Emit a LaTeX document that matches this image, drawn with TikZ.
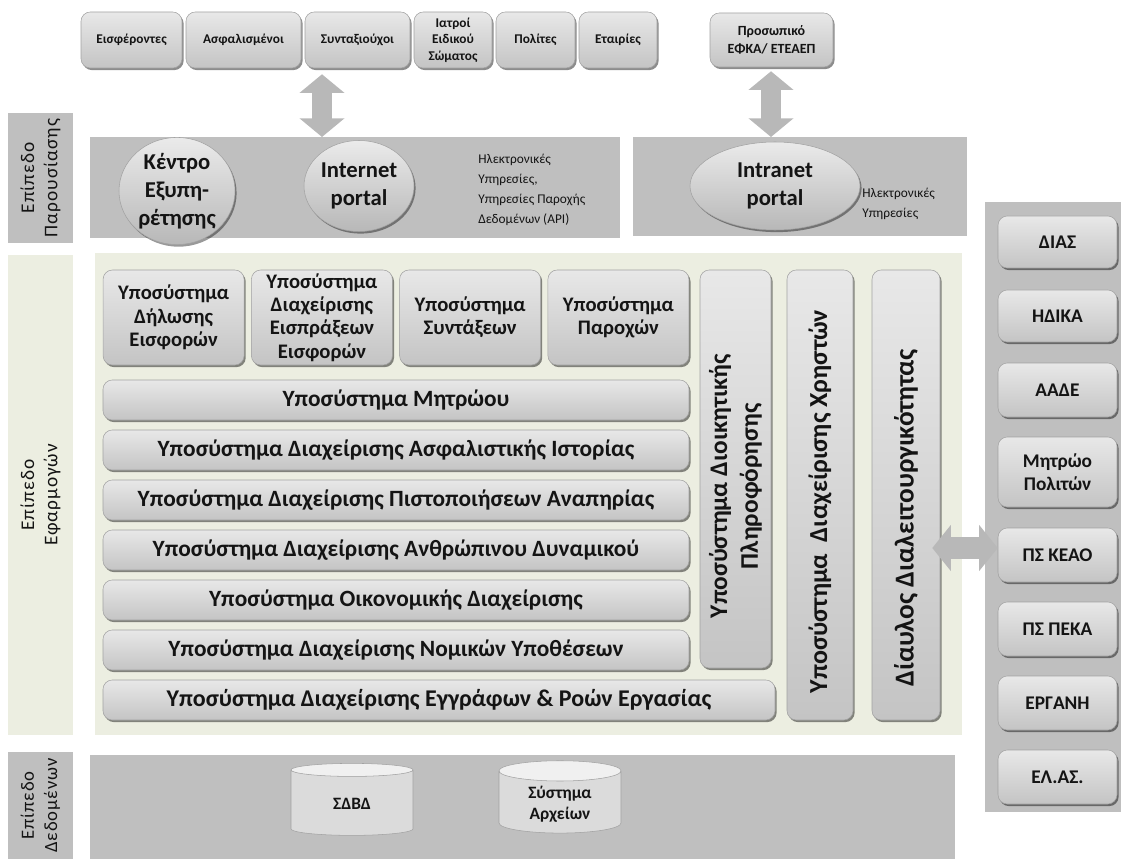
\documentclass[tikz,border=0pt]{standalone}
\usepackage{fontspec}
\setmainfont{Carlito}
\newfontfamily\layerfont[LetterSpace=5]{Carlito}
\usetikzlibrary{shapes.geometric,shadows,arrows.meta,calc}

\definecolor{panelgray}{HTML}{BFBFBF}
\definecolor{appbg}{HTML}{ECEEE1}
\definecolor{boxtop}{HTML}{E8E8E8}
\definecolor{boxbot}{HTML}{C4C4C4}
\definecolor{boxedge}{HTML}{A2A2A2}
\definecolor{arrowgray}{HTML}{B8B8B8}
\definecolor{ink}{HTML}{141414}

\tikzset{
  wh/.style 2 args={minimum width=#1*0.75pt, minimum height=#2*0.75pt},
  panel/.style={fill=panelgray, inner sep=0pt, outer sep=0pt},
  apppanel/.style={fill=appbg, inner sep=0pt, outer sep=0pt},
  layerlabel/.style={rotate=90, align=center, text=ink, inner sep=0pt,
    font=\layerfont\fontsize{14.5}{17.5}\selectfont},
  box/.style={rounded corners=7pt, draw=boxedge, line width=0.4pt,
    top color=boxtop, bottom color=boxbot,
    drop shadow={shadow xshift=1.2pt, shadow yshift=-1.6pt, opacity=0.45, fill=black},
    text=ink, align=center, inner sep=1pt, font=\bfseries},
  usrbox/.style={box, font=\fontsize{10}{12.5}\selectfont\bfseries},
  subbox/.style={box, font=\fontsize{15.5}{17.5}\selectfont\bfseries},
  rowbox/.style={box, font=\fontsize{17.5}{20}\selectfont\bfseries},
  barbox/.style={box, rotate=90},
  extbox/.style={box, font=\fontsize{14.5}{17}\selectfont\bfseries},
  portal/.style={ellipse, draw=boxedge, line width=0.4pt, inner sep=0pt,
    top color=white!92!black, bottom color=black!28,
    drop shadow={shadow xshift=1.2pt, shadow yshift=-1.6pt, opacity=0.4, fill=black},
    text=ink, align=center, font=\fontsize{17}{21}\selectfont\bfseries},
  note/.style={align=left, text=ink, inner sep=0pt, anchor=west,
    font=\fontsize{10}{15}\selectfont},
  store/.style={cylinder, shape border rotate=90, aspect=0.28, draw=boxedge,
    line width=0.4pt, cylinder uses custom fill,
    cylinder body fill=black!14, cylinder end fill=black!6,
    text=ink, align=center, font=\fontsize{13}{16}\selectfont\bfseries},
  barrow/.style={draw=arrowgray, line width=15pt,
    {Triangle[width=33pt,length=14pt]}-{Triangle[width=33pt,length=14pt]}},
  harrow/.style={draw=arrowgray, line width=16pt,
    {Triangle[width=34pt,length=14pt]}-{Triangle[width=34pt,length=14pt]}},
}

\begin{document}
\begin{tikzpicture}[x=0.75pt, y=-0.75pt]
\useasboundingbox (0,0) rectangle (1121,859);

% ---------- layer labels ----------
\node[panel, wh={65}{130}] (lpres) at (40.5,178) {};
\node[layerlabel] at (lpres.center) {Επίπεδο\\Παρουσίασης};
\node[apppanel, wh={65}{480}] (lapp) at (40.5,495) {};
\node[layerlabel] at (lapp.center) {Επίπεδο\\Εφαρμογών};
\node[panel, wh={65}{107}] (ldata) at (40.5,805.5) {};
\node[layerlabel, font=\layerfont\fontsize{14}{17.5}\selectfont] at (ldata.center) {Επίπεδο\\Δεδομένων};

% ---------- user groups ----------
\node[usrbox, wh={101}{56}] (u1) at (131.5,40) {Εισφέροντες};
\node[usrbox, wh={115}{56}] (u2) at (243.5,40) {Ασφαλισμένοι};
\node[usrbox, wh={105}{56}] (u3) at (357.5,40) {Συνταξιούχοι};
\node[usrbox, wh={78}{56}]  (u4) at (453,40) {Ιατροί\\Ειδικού\\Σώματος};
\node[usrbox, wh={79}{56}]  (u5) at (535.5,40) {Πολίτες};
\node[usrbox, wh={78}{56}]  (u6) at (618,40) {Εταιρίες};
\node[usrbox, wh={123}{54}, font=\fontsize{10.5}{13.5}\selectfont\bfseries] (staff) at (771.5,40) {Προσωπικό\\ΕΦΚΑ/ ΕΤΕΑΕΠ};

% ---------- presentation layer ----------
\node[panel, wh={530}{101}] (pres) at (355,187.5) {};
\node[panel, wh={334}{99}] (intra) at (800,186.5) {};

\node[portal, wh={116}{96}] (kentro) at (177,191) {Κέντρο\\Εξυπη-\\ρέτησης};
\node[portal, wh={110}{91}] (inet) at (359,186) {Internet\\portal};
\node[note] (inetnote) at (478,190) {Ηλεκτρονικές\\Υπηρεσίες,\\Υπηρεσίες Παροχής\\Δεδομένων (API)};
\node[portal, wh={170}{88}] (inra) at (775,186) {Intranet\\portal};
\node[note] (intranote) at (862,204) {Ηλεκτρονικές\\Υπηρεσίες};

\coordinate (ax1) at (322,0);
\coordinate (ax2) at (771,0);
\draw[barrow] ($(ax1 |- u3.south)+(0,6)$) -- (ax1 |- pres.north);
\draw[barrow] ($(ax2 |- staff.south)+(0,4)$) -- (ax2 |- intra.north);

% ---------- application layer ----------
\node[apppanel, wh={867}{482}] (apps) at (528.5,494) {};

\node[subbox, wh={141}{95}] (s1) at (173.6,317.5) {Υποσύστημα\\Δήλωσης\\Εισφορών};
\node[subbox, wh={141}{95}] (s2) at (321.9,317.5) {\fontsize{15.5}{17}\selectfont Υποσύστημα\\Διαχείρισης\\Εισπράξεων\\Εισφορών};
\node[subbox, wh={141}{95}] (s3) at (470.1,317.5) {Υποσύστημα\\Συντάξεων};
\node[subbox, wh={141}{95}] (s4) at (618.4,317.5) {Υποσύστημα\\Παροχών};

\node[rowbox, wh={586}{40}] (r1) at (396,400) {Υποσύστημα Μητρώου};
\node[rowbox, wh={586}{40}] (r2) at (396,450) {Υποσύστημα Διαχείρισης Ασφαλιστικής Ιστορίας};
\node[rowbox, wh={586}{40}] (r3) at (396,500) {Υποσύστημα Διαχείρισης Πιστοποιήσεων Αναπηρίας};
\node[rowbox, wh={586}{40}] (r4) at (396,550) {Υποσύστημα Διαχείρισης Ανθρώπινου Δυναμικού};
\node[rowbox, wh={586}{40}] (r5) at (396,600) {Υποσύστημα Οικονομικής Διαχείρισης};
\node[rowbox, wh={586}{40}] (r6) at (396,650) {Υποσύστημα Διαχείρισης Νομικών Υποθέσεων};
\node[rowbox, wh={672}{40}, font=\fontsize{18}{20}\selectfont\bfseries] (r7) at (439,700) {Υποσύστημα Διαχείρισης Εγγράφων \& Ροών Εργασίας};

% vertical bars; trailing space moves the text a little towards the lower end
\node[barbox, wh={398}{71}, font=\fontsize{19}{23}\selectfont\bfseries] (mis) at (735.5,469) {Υποσύστημα Διοικητικής\hspace*{26pt}\\Πληροφόρησης\hspace*{26pt}};
\node[barbox, wh={450}{66}, font=\fontsize{19.5}{23}\selectfont\bfseries] (users) at (820,495) {Υποσύστημα~ Διαχείρισης Χρηστών\hspace*{10pt}};
\node[barbox, wh={450}{68}, font=\fontsize{20.5}{24}\selectfont\bfseries] (bus) at (906,495) {Δίαυλος Διαλειτουργικότητας\hspace*{34pt}};

% ---------- external systems ----------
\node[panel, wh={136}{610}] (ext) at (1053,507) {};
\node[extbox, wh={119}{52}] (e1) at (1057.5,242) {ΔΙΑΣ};
\node[extbox, wh={119}{52}] (e2) at (1057.5,316) {ΗΔΙΚΑ};
\node[extbox, wh={119}{54}] (e3) at (1057.5,390) {ΑΑΔΕ};
\node[extbox, wh={119}{70}] (e4) at (1057.5,472) {Μητρώο\\Πολιτών};
\node[extbox, wh={119}{54}] (e5) at (1057.5,555) {ΠΣ ΚΕΑΟ};
\node[extbox, wh={119}{54}] (e6) at (1057.5,629) {ΠΣ ΠΕΚΑ};
\node[extbox, wh={119}{54}] (e7) at (1057.5,703) {ΕΡΓΑΝΗ};
\node[extbox, wh={119}{54}] (e8) at (1057.5,777) {ΕΛ.ΑΣ.};

\draw[harrow] ($(bus.south |- 0,548)+(-8,0)$) -- (e5.west |- 0,548);

% ---------- data layer ----------
\node[panel, wh={865}{104}] (data) at (522.5,807) {};
\node[store, wh={122}{72}] (db) at (352,804) {ΣΔΒΔ};
\node[store, wh={122}{72}] (fs) at (560,804) {Σύστημα\\Αρχείων};

\end{tikzpicture}
\end{document}
